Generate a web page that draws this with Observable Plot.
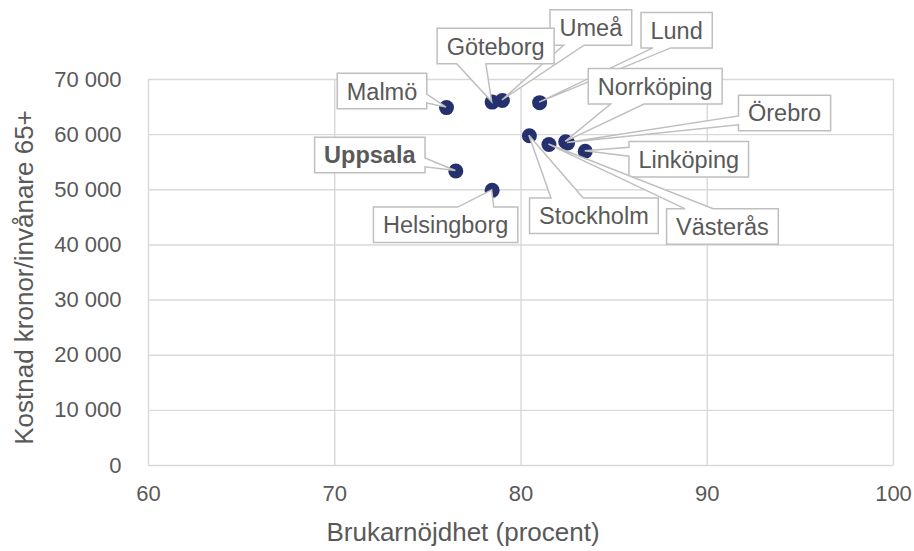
<!DOCTYPE html>
<html>
<head>
<meta charset="utf-8">
<script src="https://cdn.jsdelivr.net/npm/d3@7"></script>
<script src="https://cdn.jsdelivr.net/npm/@observablehq/plot@0.6"></script>
<style>
  html, body { margin: 0; padding: 0; background: #fff; }
  #chart { width: 914px; height: 551px; }
</style>
</head>
<body>
<div id="chart"></div>
<script>
// ---- data ----
const cities = ["Malmö", "Göteborg", "Umeå", "Lund", "Norrköping", "Örebro", "Linköping", "Västerås", "Stockholm", "Uppsala", "Helsingborg"];
const satisfaction = [76.0, 78.45, 79.0, 81.0, 82.4, 82.5, 83.45, 81.5, 80.45, 76.5, 78.45];
const cost = [64900, 65900, 66200, 65800, 58700, 58500, 57000, 58200, 59800, 53400, 49900];
const highlighted = ["Uppsala"];
const xTicks = [60, 70, 80, 90, 100];
const yTicks = [0, 10000, 20000, 30000, 40000, 50000, 60000, 70000];
const xTitle = "Brukarnöjdhet (procent)";
const yTitle = "Kostnad kronor/invånare 65+";

// ---- layout (label box centre offset from its point, in px) ----
const labelOffsets = {
  "Malmö": [-64, -16],
  "Göteborg": [4, -55.5],
  "Umeå": [89, -72.5],
  "Lund": [137.5, -72],
  "Norrköping": [90, -55],
  "Örebro": [217.5, -29.5],
  "Linköping": [104, 8.5],
  "Västerås": [174, 82.5],
  "Stockholm": [65, 80.5],
  "Uppsala": [-85.5, -15.5],
  "Helsingborg": [-46, 35]
};
const drawOrder = ["Lund", "Umeå", "Göteborg", "Malmö", "Örebro", "Norrköping", "Linköping", "Västerås", "Stockholm", "Uppsala", "Helsingborg"];

const table = cities.map((c, i) => ({city: c, x: satisfaction[i], y: cost[i]}));
const fmt = v => d3.format(",")(v).replace(/,/g, " ");

const LABEL_SIZE = 23.5;
const PAD_X = 9.5;
const BOX_H = 35.5;
const FONT = "'Liberation Sans', Arial, sans-serif";

function calloutPath(l, t, w, h, xPos, yPos) {
  const r = l + w, b = t + h;
  const hc = l + w / 2, vc = t + h / 2;
  const dxPos = xPos - hc, dyPos = yPos - vc;
  const dq = dxPos * h / w;
  const dz = Math.abs(dyPos) - Math.abs(dq);
  const xg1 = dxPos > 0 ? 7 : 2, xg2 = dxPos > 0 ? 10 : 5;
  const yg1 = dyPos > 0 ? 7 : 2, yg2 = dyPos > 0 ? 10 : 5;
  const x1 = l + w * xg1 / 12, x2 = l + w * xg2 / 12;
  const y1 = t + h * yg1 / 12, y2 = t + h * yg2 / 12;
  const xl = dz > 0 ? l : (dxPos > 0 ? l : xPos);
  const xt = dz > 0 ? (dyPos > 0 ? x1 : xPos) : x1;
  const xr = dz > 0 ? r : (dxPos > 0 ? xPos : r);
  const xb = dz > 0 ? (dyPos > 0 ? xPos : x1) : x1;
  const yl = dz > 0 ? y1 : (dxPos > 0 ? y1 : yPos);
  const yt = dz > 0 ? (dyPos > 0 ? t : yPos) : t;
  const yr = dz > 0 ? y1 : (dxPos > 0 ? yPos : y1);
  const yb = dz > 0 ? (dyPos > 0 ? yPos : b) : b;
  const p = [[l, t], [x1, t], [xt, yt], [x2, t], [r, t], [r, y1], [xr, yr], [r, y2], [r, b],
             [x2, b], [xb, yb], [x1, b], [l, b], [l, y2], [xl, yl], [l, y1]];
  return "M" + p.map(q => q[0].toFixed(2) + "," + q[1].toFixed(2)).join("L") + "Z";
}

function callouts(index, scales) {
  const g = d3.create("svg:g");
  const ctx = document.createElement("canvas").getContext("2d");
  for (const name of drawOrder) {
    const d = table.find(t => t.city === name);
    const px = scales.x(d.x), py = scales.y(d.y);
    const [ox, oy] = labelOffsets[name];
    const bold = highlighted.includes(name);
    ctx.font = `${bold ? "bold " : ""}${LABEL_SIZE}px ${FONT}`;
    const tw = ctx.measureText(name).width;
    const w = tw + 2 * PAD_X, h = BOX_H;
    const cx = px + ox, cy = py + oy;
    const l = cx - w / 2, t = cy - h / 2;
    g.append("path")
      .attr("d", calloutPath(l, t, w, h, px, py))
      .attr("fill", "#ffffff")
      .attr("stroke", "#bfbfbf")
      .attr("stroke-width", 1.5)
      .attr("stroke-linejoin", "miter");
    g.append("text")
      .attr("x", cx)
      .attr("y", cy)
      .attr("dy", "0.36em")
      .attr("text-anchor", "middle")
      .attr("font-family", FONT)
      .attr("font-size", LABEL_SIZE)
      .attr("font-weight", bold ? "bold" : "normal")
      .attr("fill", "#595959")
      .text(name);
  }
  return g.node();
}

const chart = Plot.plot({
  width: 914,
  height: 551,
  marginLeft: 148,
  marginRight: 21,
  marginTop: 79,
  marginBottom: 86,
  style: {fontFamily: FONT, fontSize: "22px", color: "#595959", background: "#ffffff", overflow: "visible"},
  x: {domain: [60, 100], ticks: xTicks, tickSize: 0, tickPadding: 20, label: null},
  y: {domain: [0, 70000], ticks: yTicks, tickSize: 0, tickPadding: 27, tickFormat: fmt, label: null},
  marks: [
    Plot.ruleX(xTicks, {x: d => d, stroke: "#d9d9d9", strokeWidth: 1.4}),
    Plot.ruleY(yTicks, {y: d => d, stroke: "#d9d9d9", strokeWidth: 1.4}),
    Plot.dot(table, {x: "x", y: "y", r: 7.5, fill: "#25316f", stroke: "none"}),
    callouts,
    Plot.text([xTitle], {text: d => d, frameAnchor: "bottom", textAnchor: "middle", lineAnchor: "middle", dx: -58, dy: 67.5, fontSize: 26, fill: "#595959"}),
    Plot.text([yTitle], {text: d => d, frameAnchor: "left", textAnchor: "middle", lineAnchor: "middle", rotate: -90, dx: -124, dy: 5, fontSize: 26, fill: "#595959"})
  ]
});
document.getElementById("chart").appendChild(chart);
</script>
</body>
</html>
